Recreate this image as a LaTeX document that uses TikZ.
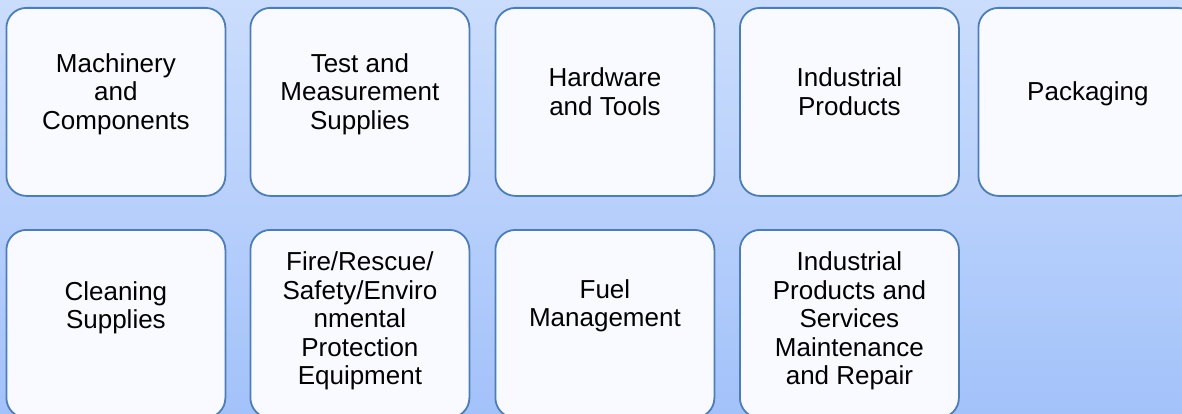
\documentclass[tikz,border=0pt]{standalone}
\usepackage{fontspec}
\setmainfont{Liberation Sans}
\usepackage{tikz}

\definecolor{bgtop}{HTML}{CBDDFC}
\definecolor{bgbottom}{HTML}{A3C2FA}
\definecolor{boxline}{HTML}{4A7EBB}
\definecolor{boxfill}{HTML}{F8FAFF}

\tikzset{catbox/.style={draw=boxline, line width=1.8pt, fill=boxfill, rounded corners=20pt,
  minimum width=219pt, minimum height=188pt, anchor=north west},
  cattext/.style={align=center, font=\fontsize{26}{28.5}\selectfont}}

\begin{document}
\begin{tikzpicture}[x=1pt,y=1pt]
\clip (0,0) rectangle (1182,-414);
\shade[top color=bgtop, bottom color=bgbottom] (0,0) rectangle (1182,-414);

% first row
\node[catbox] (machinery) at (5.5,-7) {};
\node[catbox] (testmeas) at (249.5,-7) {};
\node[catbox] (hardware) at (494.5,-7) {};
\node[catbox] (industrial) at (739,-7) {};
\node[catbox] (packaging) at (977.5,-7) {};
\node[cattext] (machinery-t) at ([yshift=8pt]machinery.center) {Machinery\\and\\Components};
\node[cattext] (testmeas-t) at ([yshift=8pt]testmeas.center) {Test and\\Measurement\\Supplies};
\node[cattext] (hardware-t) at ([yshift=10pt]hardware.center) {Hardware\\and Tools};
\node[cattext] (industrial-t) at ([yshift=10pt]industrial.center) {Industrial\\Products};
\node[cattext] (packaging-t) at ([yshift=8pt]packaging.center) {Packaging};

% second row
\node[catbox] (cleaning) at (5.5,-229) {};
\node[catbox] (firerescue) at (249.5,-229) {};
\node[catbox] (fuel) at (494.5,-229) {};
\node[catbox] (indservices) at (739,-229) {};
\node[cattext] (cleaning-t) at ([yshift=16pt]cleaning.center) {Cleaning\\Supplies};
\node[cattext] (firerescue-t) at ([yshift=3pt]firerescue.center) {Fire/Rescue/\\Safety/Enviro\\nmental\\Protection\\Equipment};
\node[cattext] (fuel-t) at ([yshift=18pt]fuel.center) {Fuel\\Management};
\node[cattext] (indservices-t) at ([yshift=3pt]indservices.center) {Industrial\\Products and\\Services\\Maintenance\\and Repair};
\end{tikzpicture}
\end{document}
